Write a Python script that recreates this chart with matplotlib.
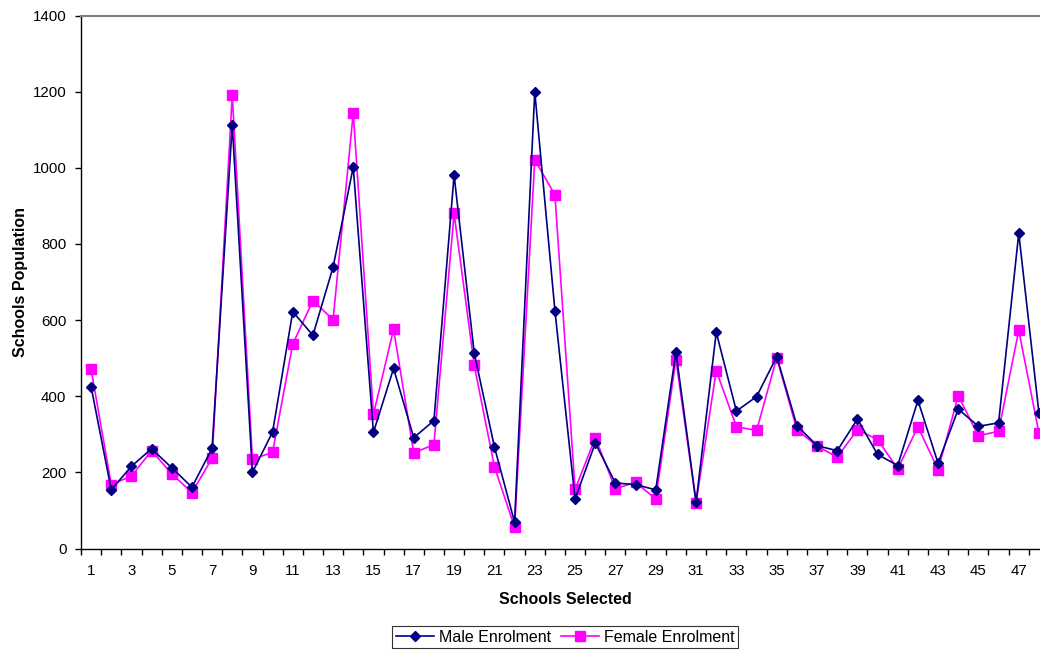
import matplotlib
matplotlib.use("Agg")
import matplotlib.pyplot as plt
import numpy as np

plt.rcParams['font.family'] = ['Liberation Sans', 'DejaVu Sans']

schools = list(range(1, 49))
male = [425, 154, 216, 262, 212, 161, 263, 1113, 200, 306,
        622, 560, 739, 1002, 305, 473, 291, 336, 981, 513,
        267, 69, 1200, 625, 130, 277, 172, 168, 154, 516,
        122, 568, 361, 399, 504, 323, 270, 257, 340, 247,
        218, 389, 224, 366, 321, 330, 828, 357]
female = [471, 168, 190, 257, 196, 147, 237, 1191, 234, 253,
          537, 651, 601, 1144, 352, 576, 251, 273, 880, 481,
          215, 56, 1021, 929, 155, 291, 157, 174, 130, 496,
          120, 467, 320, 310, 501, 312, 269, 240, 312, 286,
          209, 320, 207, 401, 296, 308, 573, 304]
xtick_labels = [str(i) for i in range(1, 49, 2)]

fig = plt.figure(figsize=(10.4, 6.52), dpi=100)
ax = fig.add_axes([81/1040, 1-548.5/652, 968/1040, 533/652])

ax.plot(schools, male, color='#000080', marker='D', markersize=5.5, linewidth=1.2,
        label='Male Enrolment', zorder=3)
ax.plot(schools, female, color='#FF00FF', marker='s', markersize=6.5, linewidth=1.2,
        label='Female Enrolment', zorder=2)

ax.set_xlim(0.5, 48.5)
ax.set_ylim(0, 1400)
ax.set_yticks(np.arange(0, 1401, 200))
ax.set_xticks(np.arange(0.5, 48.6, 1.0))
ax.set_xticklabels([])
ax.set_xticks(range(1, 49, 2), minor=True)
ax.set_xticklabels(xtick_labels, minor=True)
ax.tick_params(axis='x', which='minor', length=0, pad=11, labelsize=10.8)
ax.tick_params(axis='x', which='major', length=4, width=1, direction='out')
ax.tick_params(axis='y', length=4, width=1, direction='out', labelsize=10.8, pad=6.5)

for s in ['left', 'bottom']:
    ax.spines[s].set_color('black')
    ax.spines[s].set_linewidth(1.0)
ax.spines['top'].set_color('#808080')
ax.spines['top'].set_linewidth(1.5)
ax.spines['right'].set_visible(False)

ax.set_xlabel('Schools Selected', fontsize=11.5, fontweight='bold', labelpad=10)
ax.set_ylabel('Schools Population', fontsize=11.5, fontweight='bold', labelpad=3.5)

leg = fig.legend(loc='center', bbox_to_anchor=(565/1040, 1-637/652), ncol=2,
                 frameon=True, fancybox=False, edgecolor='black', fontsize=11.5,
                 handlelength=2.4, columnspacing=0.6, handletextpad=0.3,
                 borderpad=0.25, borderaxespad=0)
leg.get_frame().set_linewidth(0.8)

fig.savefig('out.png', dpi=100)
